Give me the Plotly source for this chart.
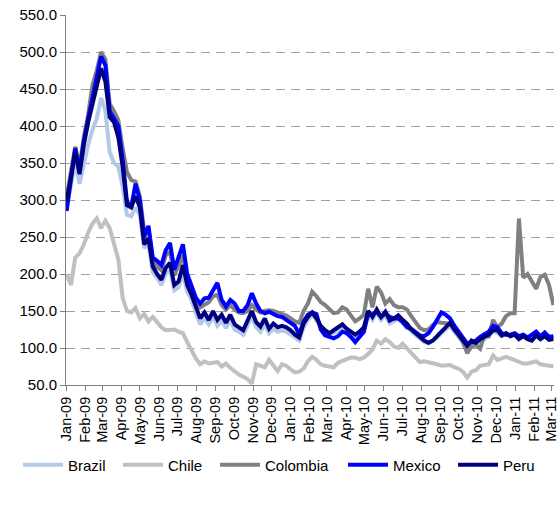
import pandas as pd
import plotly.graph_objects as go

# Weekly observations (Fridays), Jan 2009 - Mar 2011
dates = pd.date_range("2009-01-02", periods=114, freq="7D")

brazil = [
    290, 318, 350, 322, 352, 375, 395, 410, 438, 420, 365, 350, 345, 318, 280, 278, 290, 280, 235, 240,
    202, 195, 185, 200, 205, 178, 182, 200, 176, 165, 148, 132, 140, 132, 142, 130, 137, 127, 138, 125,
    122, 118, 130, 142, 128, 122, 132, 120, 126, 122, 124, 122, 118, 114, 110, 128, 138, 145, 138, 128,
    120, 117, 120, 124, 128, 122, 118, 114, 118, 124, 146, 138, 148, 138, 144, 133, 136, 140, 134, 130,
    122, 117, 112, 108, 106, 110, 114, 120, 125, 130, 122, 114, 108, 100, 106, 104, 108, 112, 116, 122,
    120, 116, 118, 116, 118, 114, 118, 115, 116, 120, 116, 118, 115, 116,
]

chile = [
    200, 185, 222, 228, 240, 256, 268, 275, 262, 272, 262, 240, 220, 168, 150, 148, 154, 140, 146, 136,
    142, 135, 128, 124, 124, 125, 122, 120, 108, 96, 86, 78, 82, 79, 80, 81, 75, 79, 73, 68,
    64, 61, 58, 52, 78, 76, 74, 84, 76, 69, 78, 76, 71, 67, 68, 72, 82, 88, 84, 78,
    76, 75, 74, 80, 83, 85, 87, 87, 85, 87, 92, 98, 110, 106, 112, 108, 102, 100, 106, 100,
    94, 88, 81, 82, 81, 79, 78, 76, 77, 77, 74, 72, 68, 60, 68, 70, 76, 77, 78, 90,
    84, 86, 88, 86, 84, 81, 79, 79, 80, 82, 78, 77, 77, 75,
]

colombia = [
    305, 340, 372, 345, 385, 415, 455, 475, 500, 490, 430, 420, 408, 370, 338, 327, 325, 305, 258, 262,
    220, 210, 205, 225, 230, 198, 210, 225, 192, 178, 163, 155, 158, 162, 170, 172, 158, 152, 158, 152,
    148, 147, 150, 158, 152, 148, 150, 151, 150, 148, 146, 144, 140, 136, 134, 150, 160, 176, 170, 162,
    158, 153, 147, 148, 155, 152, 145, 136, 140, 145, 180, 155, 183, 175, 160, 166, 158, 155, 155, 152,
    143, 135, 127, 124, 125, 131, 135, 134, 133, 133, 128, 118, 108, 93, 102, 104, 99, 118, 116, 138,
    128, 133, 143, 147, 147, 275, 195, 200, 190, 180, 196, 199, 185, 158,
]

mexico = [
    285, 325, 370, 340, 380, 410, 440, 470, 494, 482, 420, 410, 400, 355, 298, 290, 322, 300, 250, 265,
    222, 218, 212, 232, 242, 206, 222, 240, 200, 185, 168, 160, 167, 168, 178, 188, 165, 156, 165, 160,
    150, 150, 158, 174, 160, 150, 147, 149, 146, 143, 142, 138, 135, 130, 118, 136, 145, 148, 146, 125,
    117, 115, 113, 116, 122, 120, 115, 108, 116, 122, 146, 145, 149, 142, 147, 142, 140, 140, 135, 128,
    126, 122, 117, 116, 120, 128, 138, 148, 145, 140, 130, 122, 112, 106, 108, 110, 115, 118, 122, 130,
    128, 120, 118, 118, 120, 116, 118, 114, 118, 122, 116, 121, 115, 116,
]

peru = [
    298, 330, 365, 335, 375, 405, 430, 452, 478, 460, 412, 405, 385, 345, 293, 290, 305, 290, 240, 248,
    210, 200, 192, 208, 215, 185, 190, 212, 185, 172, 155, 140, 148, 138, 150, 138, 145, 134, 145, 132,
    128, 124, 137, 150, 135, 129, 140, 126, 133, 128, 130, 128, 124, 118, 114, 133, 142, 148, 140, 130,
    124, 120, 124, 128, 132, 126, 122, 118, 122, 128, 150, 142, 152, 142, 149, 137, 140, 144, 138, 133,
    125, 120, 114, 110, 107, 110, 116, 122, 128, 134, 125, 117, 111, 103, 110, 107, 112, 115, 118, 124,
    124, 117, 120, 116, 118, 112, 116, 112, 110, 117, 112, 116, 111, 112,
]

series = [
    ("Brazil", brazil, "#B3C9E8"),
    ("Chile", chile, "#C0C0C0"),
    ("Colombia", colombia, "#808080"),
    ("Mexico", mexico, "#0000FF"),
    ("Peru", peru, "#000080"),
]

# left edge (px) of each legend entry along the bottom row
legend_left_px = [18, 118, 215, 343, 453]

W, H = 559, 517
font_family = "Liberation Sans, Arial, sans-serif"

fig = go.Figure()
legend_layout = {}
for k, (name, values, color) in enumerate(series):
    lg = "legend" if k == 0 else f"legend{k + 1}"
    fig.add_trace(go.Scatter(
        x=dates, y=values, name=name, mode="lines",
        line=dict(color=color, width=4),
        legend=lg,
    ))
    legend_layout[lg] = dict(
        orientation="h",
        xref="container", yref="container",
        x=legend_left_px[k] / W, y=1 - 465 / H,
        xanchor="left", yanchor="middle",
        font=dict(size=15),
        itemwidth=40,
        bgcolor="rgba(0,0,0,0)",
    )

fig.update_layout(
    width=W, height=H,
    margin=dict(l=66, r=0, t=15, b=132),
    paper_bgcolor="white", plot_bgcolor="white",
    font=dict(family=font_family, size=15, color="black"),
    showlegend=True,
    **legend_layout,
)

fig.update_xaxes(
    type="date",
    range=["2009-01-01", "2011-03-05"],
    dtick="M1", tick0="2009-01-01",
    tickformat="%b-%y", tickangle=-90,
    ticks="outside", ticklen=5, tickcolor="#808080",
    ticklabeloverflow="allow",
    showline=True, linecolor="#808080", linewidth=1,
    showgrid=False, zeroline=False,
    tickfont=dict(size=14.5),
)

fig.update_yaxes(
    range=[50, 550], dtick=50, tick0=50,
    tickformat=".1f",
    ticks="outside", ticklen=5, tickcolor="#808080",
    showline=True, linecolor="#808080", linewidth=1,
    showgrid=True, gridcolor="#A0A0A0", gridwidth=1, griddash="9px,6px",
    zeroline=False,
    tickfont=dict(size=15),
)

fig.write_html("out.html")
